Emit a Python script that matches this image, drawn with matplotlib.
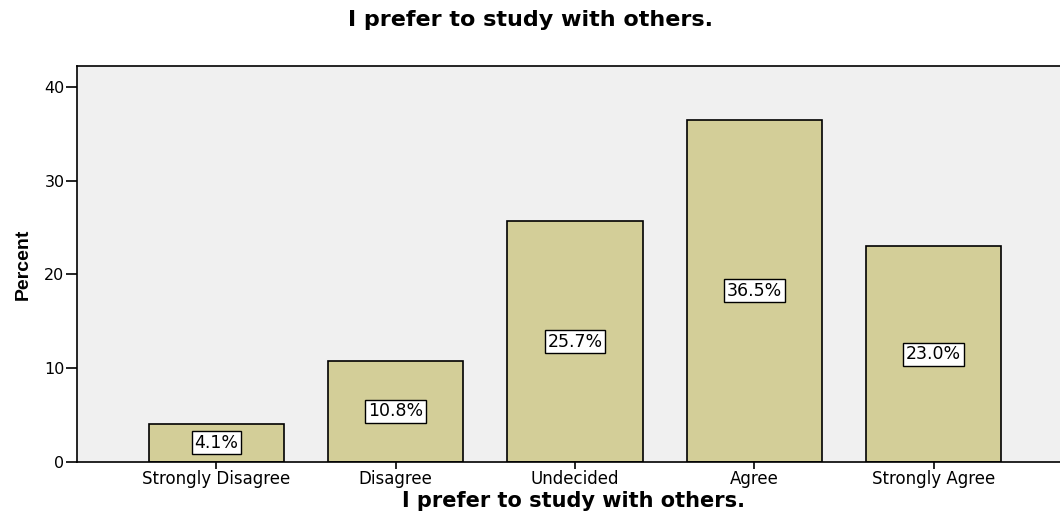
import matplotlib
matplotlib.use("Agg")
import matplotlib.pyplot as plt
import numpy as np

categories = ["Strongly Disagree", "Disagree", "Undecided", "Agree", "Strongly Agree"]
percents = [4.1, 10.8, 25.7, 36.5, 23.0]
y_ticks = [0, 10, 20, 30, 40]
title = "I prefer to study with others."

BAR_COLOR = "#d3ce98"
PANEL_BG = "#f0f0f0"

plt.rcParams["font.family"] = ["DejaVu Sans"]

fig = plt.figure(figsize=(10.6, 5.12), dpi=100)
ax = fig.add_axes([0.0726, 0.0977, 0.93, 0.7734])
ax.set_facecolor(PANEL_BG)

x = np.arange(len(categories))
ax.bar(x, percents, width=0.755, color=BAR_COLOR, edgecolor="black", linewidth=1.2)

# value labels sit halfway up each bar
for xi, p in zip(x, percents):
    ax.text(xi, p / 2, f"{p:.1f}%", ha="center", va="center", fontsize=12.5,
            bbox=dict(boxstyle="square,pad=0.15", facecolor="white",
                      edgecolor="black", linewidth=1))

ax.set_xlim(-0.777, 4.72)
ax.set_ylim(0, 42.24)
ax.set_yticks(y_ticks)
ax.set_xticks(x)
ax.set_xticklabels(categories, fontsize=12)
ax.tick_params(axis="y", labelsize=11.5, length=8, width=1.2, pad=1)
ax.tick_params(axis="x", length=5, width=1.2, pad=1)

for side in ["left", "bottom", "top"]:
    ax.spines[side].set_linewidth(1.2)
ax.spines["right"].set_visible(False)

ax.set_ylabel("Percent", fontsize=14, fontweight="bold",
              family=["Liberation Sans Narrow", "Liberation Sans"], labelpad=9)
# axis title sits right at the bottom edge
fig.text(0.541, 0.01, title, ha="center", va="baseline", fontsize=15, fontweight="bold")
fig.text(0.5, 0.961, title, ha="center", va="center", fontsize=16, fontweight="bold")

fig.savefig("out.png", dpi=100)
